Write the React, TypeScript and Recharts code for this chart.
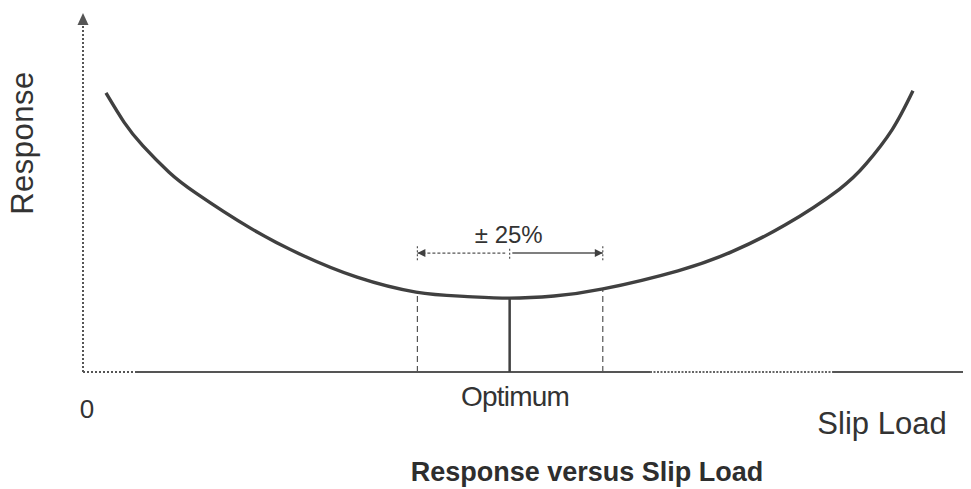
import React from "react";
import { ComposedChart, Line, XAxis, YAxis, ReferenceLine, ReferenceDot } from "recharts";

// Curve (x: slip load, y: response; arbitrary schematic units 0..100)
const slipLoad = [2.59, 4.62, 6.76, 9.7, 12.74, 18.83, 24.8, 30.89, 37.54, 42.95, 48.03, 53.1, 58.62, 67.08, 73.17, 79.14, 85.23, 88.28, 91.21, 93.57];
const response = [78.6, 70.4, 63.7, 56.3, 50.4, 40.6, 32.8, 26.7, 22.5, 21.3, 20.8, 21.4, 23.4, 28.5, 33.9, 41.4, 51.4, 58.6, 68.2, 79.2];

const optimum = 48.1;
const optimumResponse = 20.8;
const bandLow = 37.7;
const bandHigh = 58.6;
const bandLowResponse = 22.6;
const bandHighResponse = 23.4;
const bandArrowLevel = 33.5;

const tickLabels = ["0", "Optimum"];
const bandLabel = "± 25%";
const xAxisTitle = "Slip Load";
const yAxisTitle = "Response";
const chartTitle = "Response versus Slip Load";

const data = slipLoad.map((x, i) => ({ x, y: response[i] }));

const W = 963;
const H = 481;
const M = { top: 9, right: 1, bottom: 117, left: 75 };
const PW = W - M.left - M.right;
const PH = H - M.top - M.bottom;
// page px -> data units (page offset 8px from body margin)
const dx = (px: number) => ((px - 8 - M.left) / PW) * 100;
const dy = (py: number) => ((M.top + PH - (py - 8)) / PH) * 100;

const FONT = "'Liberation Sans', Arial, sans-serif";
const AX = "#555555";
const INK = "#404040";

const textShape =
  (txt: string, size: number, opts: { weight?: string; rotate?: boolean; spacing?: number; fill?: string } = {}) =>
  (p: any) =>
    (
      <text
        x={p.cx}
        y={p.cy}
        textAnchor="middle"
        fontFamily={FONT}
        fontSize={size}
        fontWeight={opts.weight || "normal"}
        letterSpacing={opts.spacing || 0}
        fill={opts.fill || "#333333"}
        transform={opts.rotate ? `rotate(-90 ${p.cx} ${p.cy})` : undefined}
      >
        {txt}
      </text>
    );

export default function App() {
  return (
    <ComposedChart width={W} height={H} data={data} margin={M}>
      <XAxis type="number" dataKey="x" domain={[0, 100]} hide />
      <YAxis type="number" domain={[0, 100]} hide />

      {/* y axis (dotted with arrow) */}
      <ReferenceLine
        segment={[{ x: 0, y: 0 }, { x: 0, y: dy(25) }]}
        stroke={AX}
        strokeWidth={2}
        strokeDasharray="2 2"
        ifOverflow="visible"
      />
      <ReferenceDot
        x={0}
        y={dy(13)}
        r={1}
        ifOverflow="visible"
        shape={(p: any) => (
          <polygon points={`${p.cx},${p.cy} ${p.cx - 5.5},${p.cy + 12} ${p.cx + 5.5},${p.cy + 12}`} fill={AX} />
        )}
      />

      {/* x axis */}
      <ReferenceLine segment={[{ x: 0, y: 0 }, { x: dx(135), y: 0 }]} stroke={AX} strokeWidth={2} strokeDasharray="2 2" ifOverflow="visible" />
      <ReferenceLine segment={[{ x: dx(135), y: 0 }, { x: dx(650), y: 0 }]} stroke={AX} strokeWidth={2} ifOverflow="visible" />
      <ReferenceLine segment={[{ x: dx(650), y: 0 }, { x: dx(833), y: 0 }]} stroke="#666" strokeWidth={2} strokeDasharray="2 1.5" ifOverflow="visible" />
      <ReferenceLine segment={[{ x: dx(833), y: 0 }, { x: 100, y: 0 }]} stroke={AX} strokeWidth={2} ifOverflow="visible" />
      <ReferenceLine segment={[{ x: 100, y: dy(367) }, { x: 100, y: dy(378) }]} stroke={AX} strokeWidth={3} ifOverflow="visible" />

      {/* optimum and band verticals */}
      <ReferenceLine segment={[{ x: optimum, y: 0 }, { x: optimum, y: optimumResponse }]} stroke={INK} strokeWidth={2.5} ifOverflow="visible" />
      <ReferenceLine segment={[{ x: bandLow, y: 0 }, { x: bandLow, y: bandLowResponse }]} stroke={AX} strokeWidth={1.2} strokeDasharray="6 4" ifOverflow="visible" />
      <ReferenceLine segment={[{ x: bandHigh, y: 0 }, { x: bandHigh, y: bandHighResponse }]} stroke={AX} strokeWidth={1.2} strokeDasharray="6 4" ifOverflow="visible" />

      {/* ±25% arrow */}
      <ReferenceLine segment={[{ x: bandLow, y: bandArrowLevel }, { x: optimum - 0.5, y: bandArrowLevel }]} stroke={AX} strokeWidth={1.3} strokeDasharray="3 2" ifOverflow="visible" />
      <ReferenceLine segment={[{ x: optimum + 0.3, y: bandArrowLevel }, { x: bandHigh, y: bandArrowLevel }]} stroke={AX} strokeWidth={1.5} ifOverflow="visible" />
      <ReferenceLine segment={[{ x: optimum, y: bandArrowLevel - 1.6 }, { x: optimum, y: bandArrowLevel + 1.6 }]} stroke={AX} strokeWidth={1.2} strokeDasharray="2 2" ifOverflow="visible" />
      <ReferenceLine segment={[{ x: bandLow, y: bandArrowLevel - 2 }, { x: bandLow, y: bandArrowLevel + 2 }]} stroke={AX} strokeWidth={1.2} strokeDasharray="2 2" ifOverflow="visible" />
      <ReferenceLine segment={[{ x: bandHigh, y: bandArrowLevel - 2 }, { x: bandHigh, y: bandArrowLevel + 2 }]} stroke={AX} strokeWidth={1.2} strokeDasharray="2 2" ifOverflow="visible" />
      <ReferenceDot
        x={bandLow}
        y={bandArrowLevel}
        r={1}
        ifOverflow="visible"
        shape={(p: any) => (
          <polygon points={`${p.cx},${p.cy} ${p.cx + 8},${p.cy - 4} ${p.cx + 8},${p.cy + 4}`} fill={INK} />
        )}
      />
      <ReferenceDot
        x={bandHigh}
        y={bandArrowLevel}
        r={1}
        ifOverflow="visible"
        shape={(p: any) => (
          <polygon points={`${p.cx},${p.cy} ${p.cx - 8},${p.cy - 4} ${p.cx - 8},${p.cy + 4}`} fill={INK} />
        )}
      />

      <Line
        type="natural"
        dataKey="y"
        stroke={INK}
        strokeWidth={3.4}
        dot={false}
        activeDot={false}
        isAnimationActive={false}
      />

      {/* texts */}
      <ReferenceDot x={optimum - 0.1} y={dy(243)} r={1} ifOverflow="visible" shape={textShape(bandLabel, 24)} />
      <ReferenceDot x={dx(87)} y={dy(418)} r={1} ifOverflow="visible" shape={textShape(tickLabels[0], 26)} />
      <ReferenceDot x={dx(515)} y={dy(406)} r={1} ifOverflow="visible" shape={textShape(tickLabels[1], 28, { spacing: -0.8 })} />
      <ReferenceDot x={dx(882)} y={dy(434)} r={1} ifOverflow="visible" shape={textShape(xAxisTitle, 31)} />
      <ReferenceDot x={dx(33)} y={dy(143)} r={1} ifOverflow="visible" shape={textShape(yAxisTitle, 31, { rotate: true, spacing: 0.5 })} />
      <ReferenceDot x={dx(587)} y={dy(481)} r={1} ifOverflow="visible" shape={textShape(chartTitle, 27, { weight: "bold", fill: "#2e2e2e" })} />
    </ComposedChart>
  );
}
